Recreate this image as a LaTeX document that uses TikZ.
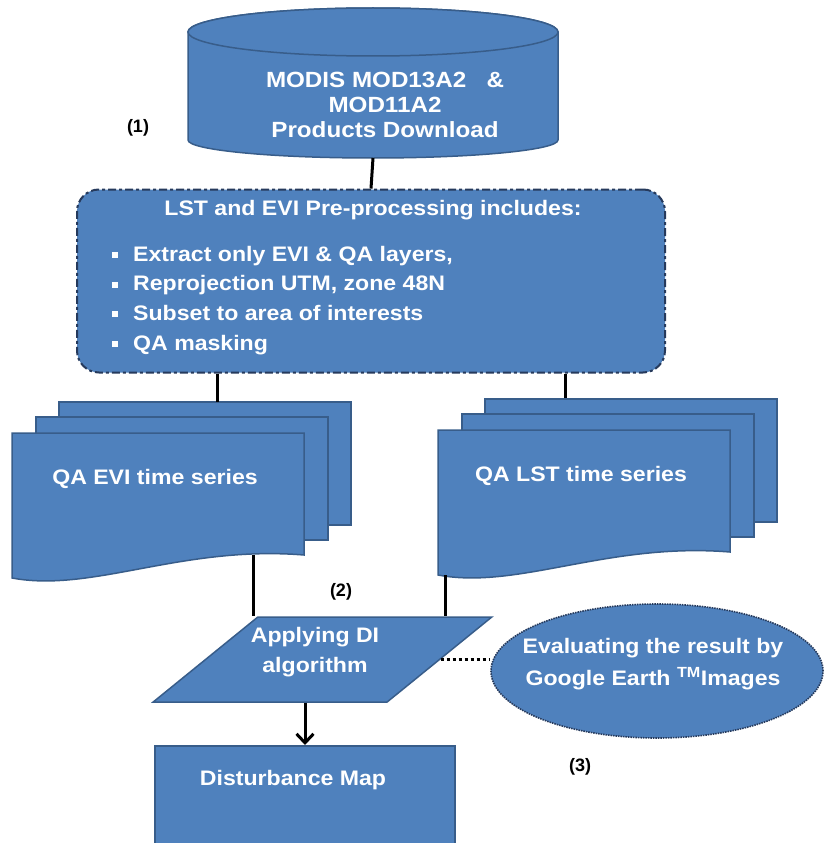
\documentclass[tikz,border=0pt]{standalone}
\usepackage{fontspec}
\newfontfamily\flowfont[FakeStretch=1.1]{Liberation Sans}
\newfontfamily\numfont{Liberation Sans}
\usepackage{tikz}
\usetikzlibrary{arrows.meta}
\usetikzlibrary{shapes.geometric}

\definecolor{boxblue}{RGB}{79,129,189}
\definecolor{boxedge}{RGB}{56,93,138}
\definecolor{dashedge}{RGB}{38,58,92}

% stack of three pages: name, x and y of the front page, label
\newcommand{\docstack}[4]{%
    \draw[pagebox] (#2+47,#3-31) rectangle ++(292,123);
    \draw[pagebox] (#2+24,#3-16) rectangle ++(292,123);
    \draw[pagebox] (#2,#3) -- ++(292,0) -- ++(0,122)
        .. controls (#2+170,#3+112) and (#2+80,#3+160) .. (#2,#3+145) -- cycle;
    \node[lbl] (#1) at (#2+143,#3+46) {#4};
}

\begin{document}
\begin{tikzpicture}[x=1pt,y=-1pt,
        lbl/.style={text=white, align=center, inner sep=0pt,
            font=\flowfont\bfseries\fontsize{21}{30}\selectfont},
        numlbl/.style={text=black, inner sep=0pt,
            font=\numfont\bfseries\fontsize{18}{18}\selectfont},
        pagebox/.style={fill=boxblue, draw=boxedge, line width=1.5pt},
        prebox/.style={rectangle, rounded corners=22pt, fill=boxblue, draw=dashedge,
            line width=2pt, dash pattern=on 8pt off 3pt on 3pt off 3pt},
        evalell/.style={ellipse, fill=boxblue, draw=dashedge, line width=1.6pt,
            dash pattern=on 1.5pt off 1pt},
        conn/.style={draw=black, line width=3pt},
        dotconn/.style={draw=black, line width=3pt, dash pattern=on 3pt off 3pt}]
        \useasboundingbox (0,0) rectangle (824,843);

        % download
        \draw[pagebox] (188,32) -- (188,140) arc[start angle=180, end angle=0, x radius=185, y radius=18]
            -- (558,32) arc[start angle=0, end angle=-180, x radius=185, y radius=24] -- cycle;
        \draw[pagebox] (373,32) ellipse[x radius=185, y radius=24];
        \coordinate (dlbot) at (373,158);
        \node[lbl, font=\flowfont\bfseries\fontsize{22}{25}\selectfont] (dltxt) at (385,105)
            {MODIS MOD13A2\ \ \ \&\\MOD11A2\\Products Download};
        \node[numlbl] (n1) at (138,128) {(1)};

        % pre-processing
        \node[prebox, minimum width=588pt, minimum height=183pt] (pre) at (371,281) {};
        \node[lbl] (pretitle) at (373,210) {LST and EVI Pre-processing includes:};
        \foreach \txt [count=\i] in {{Extract only EVI \& QA layers,},
                {Reprojection UTM, zone 48N}, {Subset to area of interests}, {QA masking}}
            \node[lbl, anchor=base west] (item\i) at (112,261+29.7*\i-29.7)
                {\rule[3pt]{6pt}{6pt}\hspace{15pt}\txt};

        % time series
        \docstack{evi}{12}{433}{QA EVI time series}
        \docstack{lst}{438}{430}{QA LST time series}
        \coordinate (evitop) at (217,402);
        \coordinate (lsttop) at (565,398);
        \coordinate (evibot) at (253,555);
        \coordinate (lstbot) at (445,575);

        % DI, map and check
        \node[trapezium, trapezium left angle=51, trapezium right angle=129, trapezium stretches,
            minimum width=339pt, minimum height=85pt, fill=boxblue, draw=boxedge,
            line width=1.5pt] (di) at (322.5,659.5) {};
        \node[lbl] (ditxt) at (315,652) {Applying DI\\algorithm};
        \node[numlbl] (n2) at (341,592) {(2)};
        \node[rectangle, anchor=north, minimum width=300pt, minimum height=120pt,
            fill=boxblue, draw=boxedge, line width=1.5pt] (dmap) at (305,745) {};
        \node[lbl] (dmaptxt) at (293,780) {Disturbance Map};
        \node[evalell, minimum width=332pt, minimum height=134pt] (ev) at (657,671) {};
        \node[lbl, font=\flowfont\bfseries\fontsize{21}{32}\selectfont] (evtxt) at (653,664)
            {Evaluating the result by\\Google Earth \textsuperscript{TM}Images};
        \node[numlbl] (n3) at (580,767) {(3)};

        % connectors
        \draw[conn] (dlbot) -- (pre.north);
        \draw[conn] (evitop |- pre.south) -- (evitop);
        \draw[conn] (lsttop |- pre.south) -- (lsttop);
        \draw[conn] (evibot) -- (evibot |- di.north);
        \draw[conn] (lstbot) -- (lstbot |- di.north);
        \draw[conn, -{Straight Barb[length=9pt, width=17pt]}] (di.south -| dmap.north) -- (dmap.north);
        \draw[dotconn] (di.east) -- (di.east -| ev.west);
\end{tikzpicture}
\end{document}
